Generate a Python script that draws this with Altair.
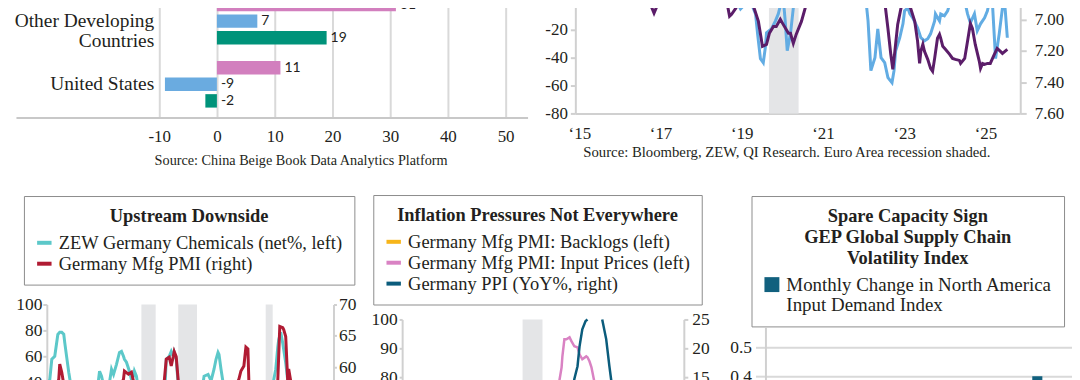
import altair as alt
import pandas as pd

SERIF = "Liberation Serif"
INK = "#231f20"
AXIS_GRAY = "#d0d0d0"
SHADE = "#e4e5e7"

# ---------------- Row 1, left: grouped horizontal bars ----------------
bar_categories = ["Other Developing Countries", "United States"]
bar_category_labels = ["Other Developing\nCountries", "United States"]
bar_series = ["Series 1", "Series 2", "Series 3"]
bar_colors = ["#d27fbe", "#6aabe0", "#00937a"]
bar_s1 = [31, 11]
bar_s2 = [7, -9]
bar_s3 = [19, -2]
bar_ticks = [-10, 0, 10, 20, 30, 40, 50]
bar_source = "Source: China Beige Book Data Analytics Platform"

# ---------------- Row 1, right: two lines, dual axis ----------------
blue_t = [2014.95, 2015.5, 2016.0, 2016.5, 2017.0, 2017.6, 2018.2, 2018.7, 2018.87, 2018.97,
          2019.04, 2019.17, 2019.24, 2019.34, 2019.39, 2019.46, 2019.53, 2019.58, 2019.61, 2019.73,
          2019.83, 2019.90, 2019.98, 2020.02, 2020.07, 2020.12, 2020.20, 2020.27, 2020.32, 2020.6,
          2021.0, 2021.5, 2021.9, 2022.06, 2022.11, 2022.18, 2022.28, 2022.35, 2022.43, 2022.52,
          2022.60, 2022.70, 2022.75, 2022.79, 2022.89, 2022.97, 2023.01, 2023.09, 2023.14, 2023.21,
          2023.33, 2023.41, 2023.50, 2023.58, 2023.65, 2023.75, 2023.77, 2023.87, 2023.90, 2023.99,
          2024.07, 2024.12, 2024.14, 2024.3, 2024.49, 2024.56, 2024.63, 2024.73, 2024.80, 2024.88,
          2024.98, 2025.05, 2025.10, 2025.14, 2025.17, 2025.25, 2025.34, 2025.42, 2025.46, 2025.49,
          2025.54]
blue_v = [20, 15, 10, 18, 25, 30, 20, 8, 0.7, -5,
          -2.9, -0.7, -1.4, -8.6, -22.9, -40.7, -43.6, -32.9, -22.1, -19.3,
          -13.6, -8.6, 0.7, 3, -13.6, -35, -22.9, -4.3, 0.7, 40,
          60, 40, 10, 0.7, -13.6, -49.3, -40, -19.3, -40, -43.6,
          -54.3, -57.9, -49.3, -35, -25.7, -15.7, -6.4, -4.3, -8.6, -11.4,
          -18.6, -25.7, -27.9, -26.4, -22.9, -13.6, -8.6, -13.6, -8.6, -10,
          -6.4, -1.4, 0.7, 8, 0.7, -8.6, -15, -8.6, -20.7, -15.7,
          -11.4, -6.4, 0.7, 4, 0.7, -40.7, -22.9, -4.3, 3, -6.4,
          -25.7]
purple_t = [2014.95, 2015.6, 2016.0, 2016.5, 2016.72, 2016.84, 2016.91, 2017.01, 2017.13, 2017.21,
            2017.25, 2017.6, 2018.0, 2018.4, 2018.63, 2018.70, 2018.75, 2018.85, 2018.92, 2019.05,
            2019.22, 2019.29, 2019.41, 2019.51, 2019.61, 2019.68, 2019.78, 2019.85, 2019.95, 2020.02,
            2020.15, 2020.20, 2020.27, 2020.34, 2020.47, 2020.56, 2020.59, 2021.0, 2021.5, 2022.0,
            2022.4, 2022.52, 2022.60, 2022.67, 2022.72, 2022.77, 2022.84, 2022.92, 2022.97, 2023.01,
            2023.09, 2023.16, 2023.26, 2023.33, 2023.38, 2023.41, 2023.46, 2023.50, 2023.58, 2023.65,
            2023.70, 2023.75, 2023.82, 2023.87, 2023.90, 2023.95, 2024.02, 2024.12, 2024.19, 2024.26,
            2024.36, 2024.39, 2024.49, 2024.56, 2024.63, 2024.68, 2024.75, 2024.85, 2024.88, 2024.93,
            2024.98, 2025.05, 2025.12, 2025.22, 2025.29, 2025.37, 2025.42, 2025.54]
purple_v = [6.21, 6.35, 6.55, 6.68, 6.885, 6.96, 6.917, 6.898, 6.898, 6.904,
            6.885, 6.75, 6.35, 6.5, 6.885, 6.98, 6.968, 6.93, 6.898, 6.72,
            6.885, 6.917, 7.013, 7.172, 7.16, 7.089, 7.045, 7.045, 7.0, 7.032,
            7.089, 7.089, 7.153, 7.096, 7.013, 6.93, 6.885, 6.55, 6.45, 6.36,
            6.7, 6.885, 7.058, 7.223, 7.319, 7.204, 7.032, 6.93, 6.86, 6.885,
            6.904, 6.93, 7.013, 7.14, 7.281, 7.204, 7.16, 7.204, 7.255, 7.313,
            7.332, 7.249, 7.121, 7.096, 7.121, 7.172, 7.192, 7.223, 7.249, 7.255,
            7.262, 7.281, 7.249, 7.14, 7.026, 7.058, 7.16, 7.268, 7.313, 7.281,
            7.287, 7.281, 7.281, 7.223, 7.185, 7.204, 7.217, 7.192]
line_recession = [[2019.67, 2020.40]]
line_year_ticks = [2015, 2017, 2019, 2021, 2023, 2025]
line_left_ticks = [0, -20, -40, -60, -80]
line_right_ticks = [7.0, 7.2, 7.4, 7.6]
line_source = "Source: Bloomberg, ZEW, QI Research. Euro Area recession shaded."

# ---------------- Row 2, panel 1 ----------------
p1_title = "Upstream Downside"
p1_series = ["ZEW Germany Chemicals (net%, left)", "Germany Mfg PMI (right)"]
p1_colors = ["#5cc8c9", "#b01b33"]
p1_recessions = [[2008.25, 2009.6], [2011.73, 2013.5], [2019.99, 2020.65]]
cyan_t = [1999.35, 1999.6, 1999.79, 2000.07, 2000.36, 2000.54, 2000.73, 2000.92, 2001.01, 2001.2,
          2001.39, 2001.58, 2002.5, 2003.55, 2004.1, 2004.3, 2004.49, 2004.87, 2005.24, 2005.43,
          2005.62, 2005.9, 2006.18, 2006.37, 2006.56, 2006.65, 2006.84, 2007.12, 2007.31, 2007.5,
          2007.59, 2007.78, 2007.97, 2008.6, 2009.19, 2010.13, 2010.5, 2010.6, 2010.88, 2011.07,
          2011.26, 2011.35, 2011.54, 2011.73, 2012.95, 2013.89, 2014.17, 2014.55, 2014.83, 2015.11,
          2015.3, 2015.49, 2015.58, 2015.77, 2015.96, 2017.0, 2017.65, 2019.0, 2020.0, 2020.47,
          2020.75, 2020.94, 2021.13, 2021.22, 2021.41, 2021.6, 2021.88, 2022.16, 2023.2, 2025.1,
          2025.6]
cyan_v = [30, 42, 57.7, 60, 76.9, 78.5, 78.5, 77, 70.8, 59.2,
          47.7, 38, 0, 10, 35, 48.5, 44.6, 30, 40, 50,
          46, 53.8, 63, 63.8, 60, 57.7, 55.4, 48.5, 42, 44.6,
          48.5, 44.6, 35, -20, -60, 20, 40, 57.7, 60, 63.8,
          60, 63, 57.7, 38, 0, 30, 44.6, 46, 41, 50,
          57.7, 63, 61.5, 50, 40, 25, 20, 0, -50, 20,
          42, 50, 67, 73, 78.5, 70, 55, 35, -30, -20,
          -15]
red_t = [1999.35, 2000.26, 2000.45, 2000.54, 2000.73, 2000.92, 2001.67, 2003.0, 2004.5, 2005.5,
         2005.9, 2006.56, 2006.65, 2007.03, 2007.31, 2007.5, 2008.25, 2009.19, 2009.94, 2010.41,
         2010.6, 2010.88, 2011.07, 2011.26, 2011.35, 2011.54, 2011.73, 2012.01, 2013.5, 2015.0,
         2016.5, 2017.18, 2017.46, 2017.65, 2017.93, 2018.12, 2018.31, 2018.4, 2018.78, 2020.0,
         2020.66, 2021.13, 2021.32, 2021.6, 2021.69, 2021.88, 2022.07, 2022.16, 2022.35, 2022.82,
         2024.23, 2025.6]
red_v = [50, 57, 58.1, 60.5, 59.2, 57.3, 45, 48, 51, 50,
         55, 58.1, 59.4, 58.9, 59.2, 57.8, 52, 33, 52, 57.8,
         61.3, 61.6, 60.2, 61.7, 62.5, 61.7, 57.8, 50, 49, 52,
         54, 57, 58.1, 59.4, 60.2, 63.2, 62.9, 57.8, 53, 40,
         52, 57.8, 66.5, 66.3, 66, 64.9, 57.8, 59.7, 57.8, 45,
         42, 49]
p1_left_domain = [30.8, 100]
p1_right_domain = [55.71, 70]
p1_left_ticks = [40, 60, 80, 100]
p1_right_ticks = [60, 65, 70]

# ---------------- Row 2, panel 2 ----------------
p2_title = "Inflation Pressures Not Everywhere"
p2_series = ["Germany Mfg PMI: Backlogs (left)", "Germany Mfg PMI: Input Prices (left)",
             "Germany PPI (YoY%, right)"]
p2_colors = ["#f7b519", "#d982c3", "#0b5c7c"]
p2_recessions = [[2020.0, 2020.5]]
orange_t = [2017.0, 2018.0, 2019.0, 2020.3, 2021.2, 2021.8, 2022.5, 2023.2, 2024.0]
orange_v = [57, 58, 47, 38, 66, 60, 48, 42, 45]
pink_t = [2017.0, 2018.0, 2019.0, 2020.0, 2020.5, 2020.8, 2020.93, 2020.98, 2021.0, 2021.05,
          2021.1, 2021.18, 2021.23, 2021.3, 2021.38, 2021.43, 2021.5, 2021.6, 2021.63, 2021.68,
          2021.73, 2021.8, 2021.93, 2022.5, 2023.0, 2023.5, 2024.0]
pink_v = [55, 60, 50, 40, 50, 65, 79.3, 83.4, 87.2, 93.1,
          93.1, 93.8, 92.4, 90.7, 90.3, 87.9, 86.2, 87.2, 86.9, 85.5,
          83.4, 78.6, 70, 55, 45, 50, 52]
teal_t = [2017.0, 2018.5, 2019.5, 2020.5, 2021.18, 2021.3, 2021.38, 2021.43, 2021.5, 2021.58,
          2021.63, 2021.8, 2021.93, 2022.0, 2022.1, 2022.18, 2022.23, 2022.43, 2023.0, 2024.0]
teal_v = [2, 3, 0, -1, 10, 14.7, 16.9, 20.3, 23.3, 24.7,
          25.0, 40, 40, 25.0, 21.6, 16.9, 14.3, 5, -2, -1]
p2_left_domain = [74.14, 100]
p2_right_domain = [12.07, 25]
p2_left_ticks = [80, 90, 100]
p2_right_ticks = [15, 20, 25]

# ---------------- Row 2, panel 3 ----------------
p3_title = ["Spare Capacity Sign", "GEP Global Supply Chain", "Volatility Index"]
p3_series = ["Monthly Change in North America\nInput Demand Index"]
p3_color = ["#11607e"]
p3_months = ["2023-11", "2023-12", "2024-01", "2024-02", "2024-03", "2024-04", "2024-05",
             "2024-06", "2024-07", "2024-08", "2024-09", "2024-10", "2024-11", "2024-12",
             "2025-01", "2025-02", "2025-03", "2025-04", "2025-05", "2025-06", "2025-07"]
p3_values = [-0.12, 0.05, -0.2, 0.1, -0.05, 0.15, -0.1, 0.02, -0.25, 0.12, 0.08,
             -0.15, 0.2, -0.3, 0.1, -0.05, 0.25, -0.2, 0.40, -0.1, 0.05]
p3_domain = [0.338, 0.569]
p3_ticks = [0.4, 0.5]


# ======================= build =======================
def series_df(name, ts, vs):
    return pd.DataFrame({"series": name, "t": ts, "v": vs})


def rec_df(spans):
    return pd.DataFrame({"start": [s[0] for s in spans], "end": [s[1] for s in spans]})


def spacer(w, h):
    return alt.Chart(pd.DataFrame({"s": [0]})).mark_point(size=0, opacity=0).encode(
        x=alt.value(0), y=alt.value(0)).properties(width=w, height=h)


def yaxis(values, orient="left", tick=4, pad=2, size=17.5, **kw):
    args = dict(values=values, orient=orient, tickSize=tick, labelPadding=pad,
                labelFontSize=size, title=None, domainColor=AXIS_GRAY, domainWidth=2,
                tickColor=AXIS_GRAY, tickWidth=2)
    args.update(kw)
    return alt.Axis(**args)


ROW2_H = 90  # every lower panel's group starts at the top of panel 1's plot

# ---- bar chart ----
rows = []
for s, vals in zip(bar_series, [bar_s1, bar_s2, bar_s3]):
    for c, v in zip(bar_categories, vals):
        rows.append({"category": c, "series": s, "value": v, "label": str(v)})
bar_df = pd.DataFrame(rows)
cat_df = pd.DataFrame({"category": bar_categories, "label": bar_category_labels})

xb = alt.Scale(domain=[-34.8, 53.8], nice=False)
yb = alt.Scale(domain=bar_categories, paddingInner=0, paddingOuter=0.024)
yo = alt.Scale(domain=bar_series, paddingInner=0.19, paddingOuter=0.5)
bar_xaxis = alt.Axis(values=bar_ticks, labelExpr="toString(datum.value)", grid=True,
                     gridColor="#d9d9d9", gridWidth=2, domainColor="#c8c8c8", domainWidth=2,
                     ticks=False, labelFontSize=17, labelPadding=11, title=bar_source,
                     titleFontSize=14.3, titleFontWeight="normal", titleX=286, titleY=43,
                     titleBaseline="middle", titleAlign="center")

bars = alt.Chart(bar_df).mark_bar().encode(
    x=alt.X("value:Q", scale=xb, axis=bar_xaxis),
    y=alt.Y("category:N", scale=yb, axis=None),
    yOffset=alt.YOffset("series:N", scale=yo),
    color=alt.Color("series:N", scale=alt.Scale(domain=bar_series, range=bar_colors), legend=None),
)
bar_vals = alt.Chart(bar_df).transform_calculate(pos="max(datum.value, 0)").mark_text(
    align="left", baseline="middle", dx=4, font="Lato", fontSize=14, color=INK).encode(
    x=alt.X("pos:Q", scale=xb, axis=bar_xaxis),
    y=alt.Y("category:N", scale=yb, axis=None),
    yOffset=alt.YOffset("series:N", scale=yo),
    text=alt.Text("label:N"),
)
bar_cats = alt.Chart(cat_df).mark_text(
    align="right", baseline="middle", dx=-5, lineBreak="\n", lineHeight=20,
    font=SERIF, fontSize=19.5, color=INK).encode(
    x=alt.datum(-10),
    y=alt.Y("category:N", scale=yb, axis=None),
    text="label:N",
)
bar_chart = alt.layer(bars, bar_vals, bar_cats).properties(width=514, height=130)

# ---- line chart ----
xl = alt.Scale(domain=[2014.902, 2025.858], nice=False, zero=False)
line_xaxis = alt.Axis(values=line_year_ticks, labelExpr="'\u2018' + slice(toString(datum.value), 2)",
                      domainColor=AXIS_GRAY, domainWidth=2, ticks=False, labelFontSize=17,
                      labelPadding=12, title=line_source, titleFontSize=14.8,
                      titleFontWeight="normal", titleX=212, titleY=39,
                      titleBaseline="middle", titleAlign="center")
yl = alt.Scale(domain=[-80, 10], nice=False, zero=False)
yr = alt.Scale(domain=[6.8, 7.6], nice=False, zero=False, reverse=True)
left_axis = yaxis(line_left_ticks, tick=5, pad=3, size=17, labelExpr="toString(datum.value)")

shade1 = alt.Chart(rec_df(line_recession)).mark_rect(color=SHADE).encode(
    x=alt.X("start:Q", scale=xl, axis=line_xaxis), x2="end:Q")
zero_rule = alt.Chart(pd.DataFrame({"z": [0]})).mark_rule(color=AXIS_GRAY, strokeWidth=2).encode(
    y=alt.Y("z:Q", scale=yl, axis=left_axis))
blue_line = alt.Chart(series_df("blue", blue_t, blue_v)).mark_line(
    color="#62ace3", strokeWidth=3, clip=True).encode(
    x=alt.X("t:Q", scale=xl, axis=line_xaxis),
    y=alt.Y("v:Q", scale=yl, axis=left_axis))
purple_line = alt.Chart(series_df("purple", purple_t, purple_v)).mark_line(
    color="#5b1d69", strokeWidth=3, clip=True).encode(
    x=alt.X("t:Q", scale=xl, axis=line_xaxis),
    y=alt.Y("v:Q", scale=yr, axis=yaxis(line_right_ticks, orient="right", tick=6, pad=8,
                                        size=17, format=".2f")))
line_chart = alt.layer(shade1, alt.layer(zero_rule, blue_line), purple_line).resolve_scale(
    y="independent").properties(width=447, height=126)

# ---- panel 1 ----
p1x = alt.Scale(domain=[1999.32, 2026.39], nice=False, zero=False)
p1_col = alt.Color("series:N", scale=alt.Scale(domain=p1_series, range=p1_colors),
                   legend=alt.Legend(title=p1_title, orient="none", legendX=-23, legendY=-109,
                                     symbolType="stroke", symbolSize=210, symbolStrokeWidth=4))
p1_shade = alt.Chart(rec_df(p1_recessions)).mark_rect(color=SHADE).encode(
    x=alt.X("start:Q", scale=p1x, axis=None), x2="end:Q")
cyan_line = alt.Chart(series_df(p1_series[0], cyan_t, cyan_v)).mark_line(
    strokeWidth=3, clip=True).encode(
    x=alt.X("t:Q", scale=p1x, axis=None),
    y=alt.Y("v:Q", scale=alt.Scale(domain=p1_left_domain, nice=False, zero=False),
            axis=yaxis(p1_left_ticks, tick=4, pad=1)),
    color=p1_col)
red_line = alt.Chart(series_df(p1_series[1], red_t, red_v)).mark_line(
    strokeWidth=3, clip=True).encode(
    x=alt.X("t:Q", scale=p1x, axis=None),
    y=alt.Y("v:Q", scale=alt.Scale(domain=p1_right_domain, nice=False, zero=False),
            axis=yaxis(p1_right_ticks, orient="right", tick=3, pad=2)),
    color=p1_col)
panel1 = alt.layer(p1_shade, cyan_line, red_line).resolve_scale(y="independent").properties(
    width=288, height=ROW2_H)

# ---- panel 2 (plot starts 15px below the group top) ----
P2_RANGE = [ROW2_H, 15]
p2x = alt.Scale(domain=[2016.975, 2024.05], nice=False, zero=False)
p2yl = alt.Scale(domain=p2_left_domain, nice=False, zero=False, range=P2_RANGE)
p2yr = alt.Scale(domain=p2_right_domain, nice=False, zero=False, range=P2_RANGE)
p2_col = alt.Color("series:N", scale=alt.Scale(domain=p2_series, range=p2_colors),
                   legend=alt.Legend(title=p2_title, orient="none", legendX=-29, legendY=-110,
                                     symbolType="stroke", symbolSize=210, symbolStrokeWidth=4))
p2_left_axis = yaxis(p2_left_ticks, tick=3, pad=2)
p2_shade = alt.Chart(rec_df(p2_recessions)).mark_rect(color=SHADE).encode(
    x=alt.X("start:Q", scale=p2x, axis=None), x2="end:Q",
    y=alt.datum(p2_left_domain[1], scale=p2yl, axis=p2_left_axis),
    y2=alt.datum(p2_left_domain[0]))
p2_left_df = pd.concat([series_df(p2_series[0], orange_t, orange_v),
                        series_df(p2_series[1], pink_t, pink_v)])
p2_left = alt.Chart(p2_left_df).mark_line(strokeWidth=2.5, clip=True).encode(
    x=alt.X("t:Q", scale=p2x, axis=None),
    y=alt.Y("v:Q", scale=p2yl, axis=p2_left_axis),
    color=p2_col, detail="series:N")
# the PPI line leaves the plot through its top: keep only the in-range stretches
teal_df = series_df(p2_series[2], teal_t, teal_v)
teal_df["seg"] = (teal_df["v"] > p2_right_domain[1]).cumsum()
teal_df = teal_df[teal_df["v"] <= p2_right_domain[1]]
p2_right = alt.Chart(teal_df).mark_line(strokeWidth=2.5, clip=True).encode(
    x=alt.X("t:Q", scale=p2x, axis=None),
    y=alt.Y("v:Q", scale=p2yr, axis=yaxis(p2_right_ticks, orient="right", tick=4, pad=4)),
    color=p2_col, detail="seg:N")
panel2 = alt.layer(alt.layer(p2_shade, p2_left), p2_right).resolve_scale(
    y="independent").properties(width=283, height=ROW2_H)

# ---- panel 3 (plot starts 23px below the group top) ----
p3_df = pd.DataFrame({"month": p3_months, "change": p3_values, "series": p3_series[0]})
panel3 = alt.Chart(p3_df).mark_bar(clip=True).encode(
    x=alt.X("month:O", sort=None, scale=alt.Scale(paddingInner=0.32, paddingOuter=0), axis=None),
    y=alt.Y("change:Q", scale=alt.Scale(domain=p3_domain, nice=False, zero=False,
                                        range=[ROW2_H, 23]),
            axis=yaxis(p3_ticks, tick=10, pad=4, format=".1f", grid=True, gridColor="#d9d9d9",
                       gridWidth=2, tickColor="#d9d9d9")),
    color=alt.Color("series:N", scale=alt.Scale(domain=p3_series, range=p3_color),
                    legend=alt.Legend(title=p3_title, orient="none", legendX=-14, legendY=-109,
                                      symbolType="square", symbolSize=225, labelFontSize=19,
                                      labelExpr="split(datum.label, '\\n')")),
).properties(width=308, height=ROW2_H)

# ---- layout ----
row1 = alt.hconcat(bar_chart, line_chart, spacing=48, bounds="flush").resolve_scale(
    color="independent")
row2 = alt.hconcat(spacer(31, 1), panel1, spacer(69, 1), panel2, spacer(82, 1), panel3,
                   spacing=0, bounds="flush").resolve_scale(color="independent")

chart = alt.vconcat(row1, row2, spacing=26,
                    padding={"left": 6, "top": -21, "right": 0, "bottom": 0}).resolve_scale(
    color="independent").configure_view(strokeWidth=0).configure_axis(
    labelFont=SERIF, labelColor=INK, titleFont=SERIF, titleColor=INK, grid=False
).configure_legend(
    labelFont=SERIF, labelFontSize=18.5, labelColor=INK, labelLimit=500, labelOffset=5,
    titleFont=SERIF, titleFontSize=18.5, titleFontWeight="bold", titleColor=INK,
    titleLimit=500, titleAnchor="middle", titleAlign="center", titlePadding=8,
    titleLineHeight=21, rowPadding=2, padding=11, strokeColor="#8c8c8c", fillColor="white"
)

chart.save("out.html", embed_options={"renderer": "svg", "actions": False})
